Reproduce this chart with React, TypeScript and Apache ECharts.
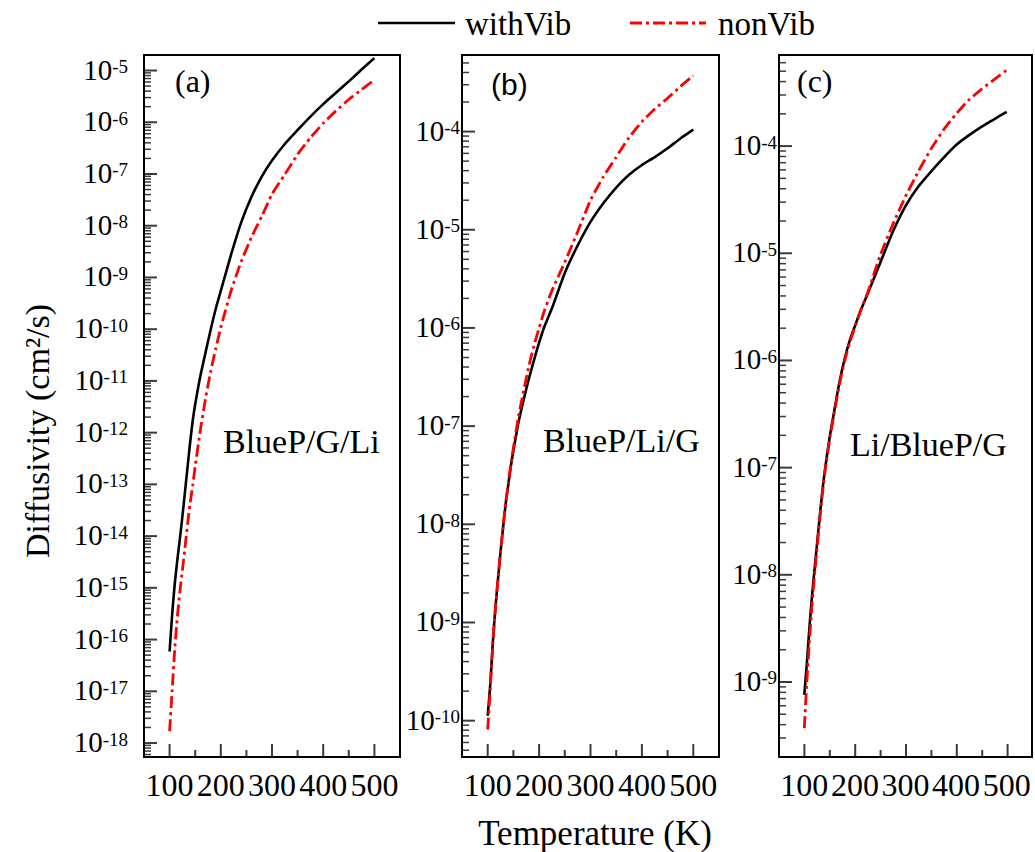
import React, { useEffect, useRef } from "react";
import * as echarts from "echarts";

// Temperatures (K) and log10 of diffusivity (cm^2/s)
const tA = [100, 105, 110, 115, 120, 125, 130, 135, 140, 145, 150, 160, 170, 180, 190, 200, 220, 240, 260, 280, 300, 325, 350, 375, 400, 425, 450, 475, 500];
const aWithVib = [-16.23, -15.52, -14.93, -14.47, -14.06, -13.62, -13.15, -12.67, -12.2, -11.78, -11.45, -10.91, -10.46, -10.02, -9.61, -9.26, -8.56, -7.93, -7.44, -7.05, -6.74, -6.42, -6.15, -5.89, -5.65, -5.43, -5.21, -4.98, -4.76];
const aNonVib = [-17.77, -16.98, -16.2, -15.57, -15.08, -14.66, -14.23, -13.77, -13.37, -13.03, -12.65, -11.96, -11.35, -10.83, -10.38, -9.97, -9.26, -8.69, -8.22, -7.82, -7.39, -7.01, -6.62, -6.3, -6.02, -5.78, -5.56, -5.37, -5.18];

const tB = [100, 105, 110, 115, 120, 125, 130, 135, 140, 145, 150, 160, 170, 180, 190, 200, 210, 225, 250, 275, 300, 325, 350, 375, 400, 425, 450, 475, 500];
const bWithVib = [-9.95, -9.63, -9.2, -8.85, -8.56, -8.28, -8.03, -7.79, -7.6, -7.41, -7.25, -6.96, -6.73, -6.52, -6.33, -6.15, -5.99, -5.8, -5.44, -5.16, -4.92, -4.73, -4.57, -4.44, -4.34, -4.26, -4.17, -4.07, -3.98];
const bNonVib = [-10.09, -9.68, -9.22, -8.86, -8.56, -8.28, -8.02, -7.78, -7.58, -7.39, -7.22, -6.9, -6.64, -6.39, -6.18, -6.0, -5.83, -5.62, -5.33, -5.02, -4.7, -4.46, -4.26, -4.06, -3.9, -3.77, -3.66, -3.54, -3.43];

const tC = [100, 105, 110, 115, 120, 125, 130, 135, 140, 150, 160, 170, 180, 190, 200, 210, 225, 250, 275, 300, 325, 350, 375, 400, 425, 450, 475, 500];
const cWithVib = [-9.12, -8.83, -8.5, -8.21, -7.96, -7.72, -7.48, -7.25, -7.05, -6.72, -6.45, -6.19, -5.98, -5.81, -5.68, -5.55, -5.38, -5.09, -4.8, -4.56, -4.38, -4.24, -4.11, -3.99, -3.9, -3.82, -3.75, -3.68];
const cNonVib = [-9.43, -9.0, -8.63, -8.3, -8.02, -7.76, -7.51, -7.28, -7.07, -6.74, -6.47, -6.21, -6.0, -5.83, -5.69, -5.55, -5.37, -5.02, -4.73, -4.47, -4.24, -4.03, -3.85, -3.7, -3.57, -3.47, -3.38, -3.29];

// axis ranges (log10 units for y, K for x) and tick positions
const yRanges = [
  [-18.27, -4.7],
  [-10.37, -3.22],
  [-9.7, -3.15],
];
const yMajors = [
  [-18, -17, -16, -15, -14, -13, -12, -11, -10, -9, -8, -7, -6, -5],
  [-10, -9, -8, -7, -6, -5, -4],
  [-9, -8, -7, -6, -5, -4],
];
const xRange = [50, 550];
const xMajor = [100, 200, 300, 400, 500];
const xMinor = [150, 250, 350, 450];
const panelLabels = ["(a)", "(b)", "(c)"];
const systemLabels = ["BlueP/G/Li", "BlueP/Li/G", "Li/BlueP/G"];
const seriesNames = ["withVib", "nonVib"];

const SERIF = "'Liberation Serif', 'Times New Roman', serif";
const SANS = "'Liberation Sans', Arial, sans-serif";
const RED = "#ff0000";
const TICK = "#0a0a0a";
const DASH = [12, 4, 3, 4];
const MAJOR_LEN = 13;
const MINOR_LEN = 7;

const GRIDS = [
  { left: 144, top: 55, width: 256, height: 702 },
  { left: 462, top: 55, width: 257, height: 702 },
  { left: 779, top: 55, width: 254, height: 702 },
];

function minorTicks(min: number, max: number): number[] {
  const out: number[] = [];
  for (let n = Math.floor(min) - 1; n <= Math.ceil(max); n++) {
    for (let k = 2; k <= 9; k++) {
      const v = n + Math.log10(k);
      if (v > min + 0.01 && v < max - 0.01) out.push(v);
    }
  }
  return out;
}

function tickScatter(data: number[][], size: number[], offset: number[]) {
  return {
    type: "scatter", clip: false, symbol: "rect", symbolSize: size, symbolOffset: offset,
    itemStyle: { color: TICK }, data,
  };
}

export default function App() {
  const mainRef = useRef<HTMLDivElement>(null);
  const ov0 = useRef<HTMLDivElement>(null);
  const ov1 = useRef<HTMLDivElement>(null);
  const ov2 = useRef<HTMLDivElement>(null);

  useEffect(() => {
    if (!mainRef.current || !ov0.current || !ov1.current || !ov2.current) return;
    const chart = echarts.init(mainRef.current, undefined, { renderer: "svg" });
    const labelMargins = [16, 2, 2];
    const xAxes: any[] = [];
    const yAxes: any[] = [];
    const series: any[] = [];
    const panels = [
      [tA, aWithVib, aNonVib],
      [tB, bWithVib, bNonVib],
      [tC, cWithVib, cNonVib],
    ];
    GRIDS.forEach((_, i) => {
      const [mn, mx] = yRanges[i];
      xAxes.push({
        gridIndex: i, type: "value", min: xRange[0], max: xRange[1], interval: 50,
        axisLine: { show: true, lineStyle: { color: "#000", width: 2 } },
        axisTick: { show: false },
        axisLabel: {
          show: true, fontSize: 32, fontFamily: SERIF, color: "#000", margin: 12,
          formatter: (v: number) => (v % 100 === 0 ? String(v) : ""),
        },
        splitLine: { show: false },
      });
      yAxes.push({
        gridIndex: i, type: "value", min: mn, max: mx, minInterval: 1, maxInterval: 1,
        axisLine: { show: true, lineStyle: { color: "#000", width: 2 } },
        axisTick: { show: false },
        axisLabel: {
          show: true, margin: labelMargins[i],
          formatter: (v: number) => (Math.abs(v - Math.round(v)) < 1e-6 ? `{b|10}{s|${Math.round(v)}}` : ""),
          rich: {
            b: { fontSize: 29, fontFamily: SERIF, color: "#000", lineHeight: 27, verticalAlign: "bottom" },
            s: { fontSize: 19, fontFamily: SERIF, color: "#000", lineHeight: 22, padding: [0, 0, 14, 0], verticalAlign: "top" },
          },
        },
        splitLine: { show: false },
      });
      const [t, w, n] = panels[i];
      series.push({
        type: "line", name: seriesNames[0], xAxisIndex: i, yAxisIndex: i,
        data: t.map((x, j) => [x, w[j]]), symbol: "none", showSymbol: false, smooth: 0.2,
        lineStyle: { color: "#000", width: 2.6 }, itemStyle: { color: "#000" },
      });
      series.push({
        type: "line", name: seriesNames[1], xAxisIndex: i, yAxisIndex: i,
        data: t.map((x, j) => [x, n[j]]), symbol: "none", showSymbol: false, smooth: 0.2,
        lineStyle: { color: RED, width: 2.8, type: DASH }, itemStyle: { color: RED },
      });
    });

    const panelPos = [
      { x: 175, y: 81, font: SERIF, size: 32 },
      { x: 491, y: 84, font: SANS, size: 30 },
      { x: 797, y: 81, font: SERIF, size: 32 },
    ];
    const sysPos = [
      { x: 223, y: 441 },
      { x: 543, y: 440 },
      { x: 850, y: 444 },
    ];
    const graphic: any[] = [];
    panelLabels.forEach((t, i) => {
      graphic.push({
        type: "text", x: panelPos[i].x, y: panelPos[i].y,
        style: { text: t, fontSize: panelPos[i].size, fontFamily: panelPos[i].font, fill: "#000", align: "left", verticalAlign: "middle" },
      });
    });
    systemLabels.forEach((t, i) => {
      graphic.push({
        type: "text", x: sysPos[i].x, y: sysPos[i].y,
        style: { text: t, fontSize: 34, fontFamily: SERIF, fill: "#000", align: "left", verticalAlign: "middle" },
      });
    });
    graphic.push({ type: "line", shape: { x1: 378, y1: 23, x2: 455, y2: 23 }, style: { stroke: "#000", lineWidth: 2.6 } });
    graphic.push({
      type: "text", x: 465, y: 24,
      style: { text: seriesNames[0], fontSize: 33, fontFamily: SERIF, fill: "#000", align: "left", verticalAlign: "middle" },
    });
    graphic.push({ type: "line", shape: { x1: 630, y1: 23, x2: 706, y2: 23 }, style: { stroke: RED, lineWidth: 2.8, lineDash: DASH } });
    graphic.push({
      type: "text", x: 718, y: 24,
      style: { text: seriesNames[1], fontSize: 33, fontFamily: SERIF, fill: "#000", align: "left", verticalAlign: "middle" },
    });
    graphic.push({
      type: "text", x: 595, y: 833,
      style: { text: "Temperature (K)", fontSize: 35, fontFamily: SERIF, fill: "#000", align: "center", verticalAlign: "middle" },
    });
    graphic.push({
      type: "text", x: 37, y: 431, rotation: Math.PI / 2,
      style: { text: "Diffusivity (cm²/s)", fontSize: 34, fontFamily: SERIF, fill: "#000", align: "center", verticalAlign: "middle" },
    });

    chart.setOption({
      animation: false,
      backgroundColor: "#fff",
      grid: GRIDS.map((g) => ({ ...g, show: true, borderColor: "#000", borderWidth: 2 })),
      xAxis: xAxes,
      yAxis: yAxes,
      series,
      graphic,
    });

    // one simple overlay chart per panel, sharing the panel's geometry and ranges, for the tick marks
    const overlays = [ov0.current, ov1.current, ov2.current].map((el, i) => {
      const ov = echarts.init(el, undefined, { renderer: "svg" });
      const [mn, mx] = yRanges[i];
      const hidden = { axisLine: { show: false }, axisTick: { show: false }, axisLabel: { show: false }, splitLine: { show: false } };
      ov.setOption({
        animation: false,
        grid: [{ ...GRIDS[i] }],
        xAxis: [{ type: "value", min: xRange[0], max: xRange[1], ...hidden }],
        yAxis: [{ type: "value", min: mn, max: mx, ...hidden }],
        series: [
          tickScatter(xMajor.map((v) => [v, mn]), [2, MAJOR_LEN], [0, -MAJOR_LEN / 2]),
          tickScatter(xMinor.map((v) => [v, mn]), [2, MINOR_LEN], [0, -MINOR_LEN / 2]),
          tickScatter(yMajors[i].map((v) => [xRange[0], v]), [MAJOR_LEN, 2], [MAJOR_LEN / 2, 0]),
          tickScatter(minorTicks(mn, mx).map((v) => [xRange[0], v]), [MINOR_LEN, 1.5], [MINOR_LEN / 2, 0]),
        ],
      });
      return ov;
    });

    return () => {
      chart.dispose();
      overlays.forEach((o) => o.dispose());
    };
  }, []);

  const layer: React.CSSProperties = { position: "absolute", left: 0, top: 0, width: 1035, height: 852 };
  return (
    <div style={layer}>
      <div ref={mainRef} style={layer} />
      <div ref={ov0} style={{ ...layer, pointerEvents: "none" }} />
      <div ref={ov1} style={{ ...layer, pointerEvents: "none" }} />
      <div ref={ov2} style={{ ...layer, pointerEvents: "none" }} />
    </div>
  );
}
